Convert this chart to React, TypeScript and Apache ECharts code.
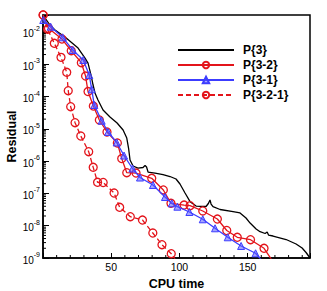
import React, { useEffect, useRef } from "react";
import * as echarts from "echarts";

// P{3}: black solid line (no markers)
const p3X = [0, 5.1, 8.8, 16.1, 25.7, 30.8, 33.0, 35.2, 36.7, 38.1, 40.3, 44.0, 49.1, 54.3, 58.7, 61.4, 62.7, 63.8, 66.0, 69.6, 73.3, 74.8, 75.9, 77.0, 82.1, 88.0, 93.1, 97.5, 100.4, 104.1, 107.8, 112.2, 119.5, 121.2, 122.4, 123.2, 124.6, 129.8, 139.3, 144.4, 148.8, 151.8, 156.2, 159.1, 162.8, 164.3, 165.3, 168.6, 178.2, 185.5, 189.9, 192.8, 195.7];
const p3Y = [3.36e-2, 1.64e-2, 1.15e-2, 6.98e-3, 3.19e-3, 1.56e-3, 1.09e-3, 4.64e-4, 2.28e-4, 1.29e-4, 7.82e-5, 3.83e-5, 2.33e-5, 1.52e-5, 9.2e-6, 5.2e-6, 2.55e-6, 1.08e-6, 7.06e-7, 6.12e-7, 6.35e-7, 7.33e-7, 6.58e-7, 4.6e-7, 4.28e-7, 3.85e-7, 3.34e-7, 2.8e-7, 1.96e-7, 1.03e-7, 5.55e-8, 4.07e-8, 3.94e-8, 4.88e-8, 6.25e-8, 4.7e-8, 3.88e-8, 3.18e-8, 2.75e-8, 2.48e-8, 1.73e-8, 1.21e-8, 7.91e-9, 6.52e-9, 5.74e-9, 6.38e-9, 5.15e-9, 4.8e-9, 3.74e-9, 2.72e-9, 2.04e-9, 1.48e-9, 1.0e-9];

// P{3-2}: red solid, hollow circles (last point: line end, no marker)
const p32X = [0.2, 4.0, 13.9, 20.7, 28.1, 31.2, 33.0, 36.9, 41.3, 46.9, 54.5, 57.7, 61.4, 68.2, 79.7, 88.2, 93.8, 103.4, 107.8, 117.1, 127.8, 134.7, 142.4, 152.1, 162.0, 167.5];
const p32Y = [3.36e-2, 1.3e-2, 6.05e-3, 2.63e-3, 1.12e-3, 4.32e-4, 1.43e-4, 5.09e-5, 1.88e-5, 7.98e-6, 3.64e-6, 1.2e-6, 4.39e-7, 4.28e-7, 2.94e-7, 1.28e-7, 4.94e-8, 4.37e-8, 4.17e-8, 2.86e-8, 1.61e-8, 7.11e-9, 4.38e-9, 3.69e-9, 2.0e-9, 9.0e-10];

// P{3-1}: blue solid, triangles (last point: line end, no marker)
const p31X = [0.2, 5.6, 14.4, 21.8, 29.5, 33.9, 35.7, 37.6, 43.0, 47.7, 54.0, 59.4, 65.6, 71.1, 80.6, 89.4, 94.4, 98.5, 107.3, 117.1, 126.1, 135.4, 145.2, 155.8, 159.8];
const p31Y = [2.35e-2, 1.46e-2, 6.84e-3, 2.77e-3, 1.36e-3, 4.64e-4, 1.68e-4, 5.47e-5, 1.79e-5, 7.98e-6, 3.78e-6, 1.49e-6, 5.92e-7, 3.11e-7, 1.82e-7, 7.74e-8, 4.94e-8, 3.88e-8, 2.66e-8, 1.58e-8, 8.32e-9, 4.38e-9, 2.36e-9, 1.4e-9, 9.0e-10];

// P{3-2-1}: red dashed, hollow circles (last point: line end, no marker)
const p321X = [0, 3.4, 8.3, 13.2, 17.4, 18.5, 20.3, 23.5, 27.7, 33.5, 36.8, 40.0, 44.1, 52.1, 56.2, 64.0, 72.9, 80.5, 87.2, 94.0, 96.8];
const p321Y = [3.36e-2, 1.21e-2, 4.46e-3, 1.64e-3, 5.64e-4, 1.52e-4, 4.85e-5, 1.55e-5, 6.0e-6, 1.96e-6, 6.44e-7, 2.21e-7, 2.18e-7, 1.03e-7, 3.72e-8, 1.9e-8, 1.5e-8, 5.94e-9, 2.58e-9, 1.36e-9, 9.3e-10];

const seriesNames = ["P{3}", "P{3-2}", "P{3-1}", "P{3-2-1}"];
const xMinorTicks = [10, 20, 30, 40, 60, 70, 80, 90, 110, 120, 130, 140, 160, 170, 180, 190];
const yMinorMantissas = [2, 3, 4, 5, 6, 7, 8, 9];
const yDecades = [-9, -8, -7, -6, -5, -4, -3, -2];

const X_MIN = 0;
const X_MAX = 195.7;
const Y_MIN = 1e-9;
const Y_MAX = 0.0336;

const RED = "#e3141b";
const BLUE = "#3c3cff";

function pairs(xs: number[], ys: number[], lastNoSymbol: boolean) {
  return xs.map((x, i) => {
    if (lastNoSymbol && i === xs.length - 1) {
      return { value: [x, ys[i]], symbol: "none" };
    }
    return { value: [x, ys[i]] };
  });
}

export default function App() {
  const ref = useRef<HTMLDivElement>(null);
  useEffect(() => {
    if (!ref.current) return;
    const chart = echarts.init(ref.current, null, { renderer: "svg" });
    const yMinor: number[][] = [];
    yDecades.forEach((d) => {
      yMinorMantissas.forEach((m) => {
        const v = m * Math.pow(10, d);
        if (v < Y_MAX) yMinor.push([X_MIN, v]);
      });
    });
    const xMinor = xMinorTicks.map((x) => [x, Y_MIN]);
    const font = "Liberation Sans, Arial, Helvetica, sans-serif";

    chart.setOption({
      animation: false,
      textStyle: { fontFamily: font },
      grid: {
        left: 43,
        right: 17,
        top: 15,
        bottom: 33,
        show: true,
        borderColor: "#000",
        borderWidth: 1.5,
        containLabel: false,
        outerBoundsMode: "none",
      },
      legend: {
        data: [
          { name: seriesNames[0], itemStyle: { opacity: 0 } },
          seriesNames[1],
          seriesNames[2],
          seriesNames[3],
        ],
        orient: "vertical",
        left: 177,
        top: 43,
        padding: 0,
        itemWidth: 56,
        itemHeight: 8,
        itemGap: 1,
        textStyle: {
          fontFamily: font,
          fontSize: 12,
          fontWeight: "bold",
          color: "#000",
          lineHeight: 14,
          padding: [0, 0, 0, 4],
        },
      },
      xAxis: {
        type: "value",
        min: X_MIN,
        max: X_MAX,
        interval: 50,
        name: "CPU time",
        nameLocation: "middle",
        nameGap: 19,
        nameMoveOverlap: false,
        nameTextStyle: { fontFamily: font, fontSize: 12.5, fontWeight: "bold", color: "#000" },
        axisLine: { show: true, lineStyle: { color: "#000", width: 1.5 } },
        axisTick: { show: true, inside: true, length: 5, lineStyle: { color: "#000", width: 1 } },
        axisLabel: {
          fontFamily: font,
          fontSize: 10.5,
          color: "#000",
          margin: 3,
          formatter: (v: number) => (v > 0 && Math.abs(v % 50) < 1e-6 ? String(v) : ""),
        },
        splitLine: { show: false },
      },
      yAxis: {
        type: "log",
        logBase: 10,
        min: Y_MIN,
        max: Y_MAX,
        name: "Residual",
        nameLocation: "middle",
        nameGap: 25,
        nameMoveOverlap: false,
        nameTextStyle: { fontFamily: font, fontSize: 12.5, fontWeight: "bold", color: "#000" },
        axisLine: { show: true, lineStyle: { color: "#000", width: 1.5 } },
        axisTick: { show: true, inside: true, length: 6, lineStyle: { color: "#000", width: 1 } },
        axisLabel: {
          fontFamily: font,
          color: "#000",
          margin: 3,
          formatter: (v: number) => {
            const e = Math.log10(v);
            const r = Math.round(e);
            if (Math.abs(e - r) > 1e-3) return "";
            return `{b|10}{s|${r}}`;
          },
          rich: {
            b: { fontSize: 10, fontFamily: font, color: "#000", lineHeight: 14, verticalAlign: "bottom" },
            s: { fontSize: 7, fontFamily: font, color: "#000", lineHeight: 7, verticalAlign: "top" },
          },
        },
        splitLine: { show: false },
      },
      series: [
        {
          name: "P{3}",
          type: "line",
          data: pairs(p3X, p3Y, false),
          showSymbol: false,
          symbol: "none",
          lineStyle: { color: "#000", width: 1.3 },
          itemStyle: { color: "#000" },
          z: 2,
        },
        {
          name: "P{3-2}",
          type: "line",
          data: pairs(p32X, p32Y, true),
          symbol: "circle",
          symbolSize: 8,
          lineStyle: { color: RED, width: 1.3 },
          itemStyle: { color: "rgba(0,0,0,0)", borderColor: RED, borderWidth: 1.3 },
          z: 3,
        },
        {
          name: "P{3-1}",
          type: "line",
          data: pairs(p31X, p31Y, true),
          symbol: "triangle",
          symbolSize: 7,
          lineStyle: { color: BLUE, width: 1.3 },
          itemStyle: { color: "rgba(90,90,255,0.55)", borderColor: BLUE, borderWidth: 1 },
          z: 4,
        },
        {
          name: "P{3-2-1}",
          type: "line",
          data: pairs(p321X, p321Y, true),
          symbol: "circle",
          symbolSize: 8,
          lineStyle: { color: RED, width: 1.3, type: [5, 3] },
          itemStyle: { color: "rgba(0,0,0,0)", borderColor: RED, borderWidth: 1.3 },
          z: 3,
        },
        {
          name: "yMinor",
          type: "custom",
          silent: true,
          data: yMinor,
          renderItem: (params: any, api: any) => {
            const p = api.coord([api.value(0), api.value(1)]);
            return {
              type: "line",
              shape: { x1: p[0], y1: p[1], x2: p[0] + 3, y2: p[1] },
              style: { stroke: "#000", lineWidth: 1 },
            };
          },
          z: 1,
        },
        {
          name: "xMinor",
          type: "custom",
          silent: true,
          data: xMinor,
          renderItem: (params: any, api: any) => {
            const p = api.coord([api.value(0), api.value(1)]);
            return {
              type: "line",
              shape: { x1: p[0], y1: p[1], x2: p[0], y2: p[1] - 3 },
              style: { stroke: "#000", lineWidth: 1 },
            };
          },
          z: 1,
        },
      ],
    });
    return () => chart.dispose();
  }, []);
  return (
    <div
      ref={ref}
      style={{ position: "fixed", left: 0, top: 0, width: 327, height: 291, background: "#fff" }}
    />
  );
}
